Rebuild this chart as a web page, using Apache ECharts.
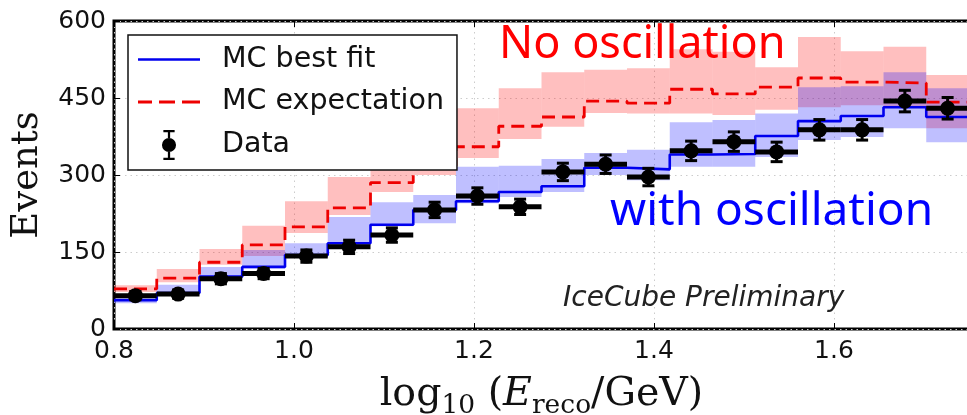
<!DOCTYPE html>
<html>
<head>
<meta charset="utf-8">
<script src="https://cdn.jsdelivr.net/npm/echarts@6/dist/echarts.min.js"></script>
<style>
  html, body { margin: 0; padding: 0; background: #fff; }
  #chart { width: 967px; height: 415px; }
</style>
</head>
<body>
<div id="chart"></div>
<script>
// Bin edges in log10(E_reco / GeV): 20 bins from 0.8 to 1.75
const binEdges = [0.8, 0.8475, 0.895, 0.9425, 0.99, 1.0375, 1.085, 1.1325, 1.18, 1.2275,
  1.275, 1.3225, 1.37, 1.4175, 1.465, 1.5125, 1.56, 1.6075, 1.655, 1.7025, 1.75];

// Observed event counts and their statistical errors
const dataCounts = [65, 68, 98, 108, 142, 160, 183, 232, 259, 238, 306, 321, 296, 347, 365, 345, 388, 388, 444, 430];
const dataErrors = [8, 8, 10, 10, 12, 13, 14, 15, 16, 15, 17, 18, 17, 19, 19, 19, 20, 20, 21, 21];

// MC best fit (with oscillation) and its uncertainty band
const bestFit     = [56, 70, 102, 121, 144, 167, 203, 232, 249, 267, 278, 314, 311, 340, 341, 376, 405, 415, 432, 413];
const bestFitLow  = [50, 66, 98, 118, 140, 163, 200, 206, 245, 257, 267, 300, 290, 316, 316, 335, 368, 374, 391, 364];
const bestFitHigh = [62, 86, 121, 154, 167, 218, 247, 261, 316, 318, 331, 343, 349, 403, 407, 420, 471, 473, 500, 469];

// MC expectation (no oscillation) and its uncertainty band
const expected     = [78, 99, 130, 164, 199, 236, 285, 318, 355, 395, 413, 444, 440, 467, 458, 471, 489, 481, 479, 442];
const expectedLow  = [72, 91, 125, 142, 187, 222, 267, 300, 333, 370, 394, 421, 420, 420, 417, 427, 432, 436, 433, 391];
const expectedHigh = [85, 117, 156, 201, 249, 296, 335, 370, 430, 469, 500, 505, 508, 545, 540, 510, 569, 541, 550, 495];

// Axis ticks
const xTicks = [0.8, 1.0, 1.2, 1.4, 1.6];
const yTicks = [0, 150, 300, 450, 600];

// ---- helpers building series data from the arrays above ----
function stepPoints(values) {
  const pts = values.map((v, i) => [binEdges[i], v]);
  pts.push([binEdges[values.length], values[values.length - 1]]);
  return pts;
}
function bandRows(low, high) {
  return low.map((lo, i) => [binEdges[i], binEdges[i + 1], lo, high[i]]);
}
const dataRows = dataCounts.map((v, i) => [binEdges[i], binEdges[i + 1], v, dataErrors[i]]);

function renderBand(params, api) {
  const p0 = api.coord([api.value(0), api.value(3)]);
  const p1 = api.coord([api.value(1), api.value(2)]);
  return {
    type: 'rect',
    shape: { x: p0[0], y: p0[1], width: p1[0] - p0[0], height: p1[1] - p0[1] },
    style: { fill: api.visual('color') }
  };
}

function renderPoint(params, api) {
  const x0 = api.value(0), x1 = api.value(1), v = api.value(2), e = api.value(3);
  const xc = (x0 + x1) / 2;
  const a = api.coord([x0, v]);
  const b = api.coord([x1, v]);
  const c = api.coord([xc, v]);
  const t = api.coord([xc, v + e]);
  const d = api.coord([xc, v - e]);
  const ink = '#000';
  const capHalf = 6;
  return {
    type: 'group',
    children: [
      { type: 'line', shape: { x1: a[0], y1: a[1], x2: b[0], y2: b[1] }, style: { stroke: ink, lineWidth: 5 } },
      { type: 'line', shape: { x1: t[0], y1: t[1], x2: d[0], y2: d[1] }, style: { stroke: ink, lineWidth: 3 } },
      { type: 'line', shape: { x1: t[0] - capHalf, y1: t[1], x2: t[0] + capHalf, y2: t[1] }, style: { stroke: ink, lineWidth: 3 } },
      { type: 'line', shape: { x1: d[0] - capHalf, y1: d[1], x2: d[0] + capHalf, y2: d[1] }, style: { stroke: ink, lineWidth: 3 } },
      { type: 'circle', shape: { cx: c[0], cy: c[1], r: 7.5 }, style: { fill: ink } }
    ]
  };
}

const RED = '#ee0000';
const BLUE = '#0000ee';
const sansFont = 'DejaVu Sans';
const serifFont = 'DejaVu Serif';

const iconSolid = 'path://M0,0H62V2.6H0Z';
const iconDashed = 'path://M0,0H14V2.8H0Z M21,0H37V2.8H21Z M44,0H62V2.8H44Z';
const iconData = 'path://M1.5,0H13.5V2.5H1.5Z M6.3,2.5H8.7V8.5H6.3Z M6.3,23.5H8.7V29.5H6.3Z M1.5,29.5H13.5V32H1.5Z M0,16A7.5,7.5 0 1,1 15,16A7.5,7.5 0 1,1 0,16Z';

const chart = echarts.init(document.getElementById('chart'), null, { renderer: 'canvas' });

const gridLine = { show: true, lineStyle: { color: '#cccccc', width: 1, type: [1.5, 4] } };
const tickStyle = { show: true, inside: true, length: 6, lineStyle: { color: '#000', width: 1 } };

chart.setOption({
  animation: false,
  backgroundColor: '#fff',
  grid: {
    left: 114, top: 21, width: 855, height: 308,
    show: true, borderColor: '#000', borderWidth: 3, backgroundColor: 'transparent',
    outerBoundsMode: 'none'
  },
  xAxis: [{
    type: 'value', position: 'bottom',
    min: xTicks[0], max: binEdges[binEdges.length - 1], interval: 0.2,
    axisLine: { show: false },
    axisTick: tickStyle,
    splitLine: gridLine,
    axisLabel: {
      color: '#111', fontFamily: sansFont, fontSize: 25, margin: 10,
      showMaxLabel: false,
      formatter: v => v.toFixed(1)
    },
    name: '{a|log}{s|10}{a| (}{i|E}{s|reco}{a|/GeV)}',
    nameLocation: 'middle',
    nameGap: 40,
    nameTextStyle: {
      rich: {
        a: { fontFamily: serifFont, fontSize: 39.5, color: '#111', lineHeight: 44 },
        i: { fontFamily: serifFont, fontStyle: 'italic', fontSize: 39.5, color: '#111', lineHeight: 44 },
        s: { fontFamily: serifFont, fontSize: 26.5, color: '#111', lineHeight: 44, padding: [24, 0, 0, 0] }
      }
    }
  }, {
    type: 'value', position: 'top',
    min: xTicks[0], max: binEdges[binEdges.length - 1], interval: 0.2,
    axisLine: { show: false },
    axisTick: tickStyle,
    axisLabel: { show: false },
    splitLine: { show: false }
  }],
  yAxis: [{
    type: 'value',
    min: yTicks[0], max: yTicks[yTicks.length - 1], interval: 150,
    axisLine: { show: false },
    axisTick: tickStyle,
    splitLine: gridLine,
    axisLabel: { color: '#111', fontFamily: sansFont, fontSize: 25, margin: 8 },
    name: 'Events',
    nameLocation: 'middle',
    nameGap: 68,
    nameRotate: 90,
    nameTextStyle: { fontFamily: serifFont, fontSize: 37, color: '#111' }
  }],
  legend: {
    orient: 'vertical',
    left: 128, top: 35,
    padding: [10, 13, 10, 10],
    itemGap: 13.5,
    itemWidth: 62, itemHeight: 30,
    backgroundColor: '#fff',
    borderColor: '#111', borderWidth: 1.5, borderRadius: 0,
    selectedMode: false,
    textStyle: { fontFamily: sansFont, fontSize: 28.5, color: '#111', padding: [0, 0, 0, 17] },
    data: [
      { name: 'MC best fit', icon: iconSolid },
      { name: 'MC expectation', icon: iconDashed },
      { name: 'Data', icon: iconData }
    ]
  },
  graphic: [
    { type: 'text', z: 50, style: { x: 499, y: 45, text: 'No oscillation', fill: '#ff0000', font: '45px "Noto Sans"', verticalAlign: 'middle' } },
    { type: 'text', z: 50, style: { x: 610, y: 212, text: 'with oscillation', fill: '#0000ff', font: '46px "Noto Sans"', verticalAlign: 'middle' } },
    { type: 'text', z: 50, style: { x: 563, y: 299, text: 'IceCube Preliminary', fill: '#222', font: 'italic 28px "DejaVu Sans"', verticalAlign: 'middle' } }
  ],
  series: [
    {
      name: 'expectation band', type: 'custom', renderItem: renderBand,
      data: bandRows(expectedLow, expectedHigh),
      itemStyle: { color: 'rgba(255,0,0,0.25)' }, z: 1, silent: true, clip: true
    },
    {
      name: 'best fit band', type: 'custom', renderItem: renderBand,
      data: bandRows(bestFitLow, bestFitHigh),
      itemStyle: { color: 'rgba(0,0,255,0.25)' }, z: 1, silent: true, clip: true
    },
    {
      name: 'MC best fit', type: 'line', step: 'end', data: stepPoints(bestFit),
      showSymbol: false, symbol: 'none',
      lineStyle: { color: BLUE, width: 2.6 }, itemStyle: { color: BLUE }, z: 2
    },
    {
      name: 'MC expectation', type: 'line', step: 'end', data: stepPoints(expected),
      showSymbol: false, symbol: 'none',
      lineStyle: { color: RED, width: 2.8, type: [13, 7] }, itemStyle: { color: RED }, z: 2
    },
    {
      name: 'Data', type: 'custom', renderItem: renderPoint, data: dataRows,
      itemStyle: { color: '#000' }, z: 3, clip: true
    }
  ]
});
</script>
</body>
</html>
